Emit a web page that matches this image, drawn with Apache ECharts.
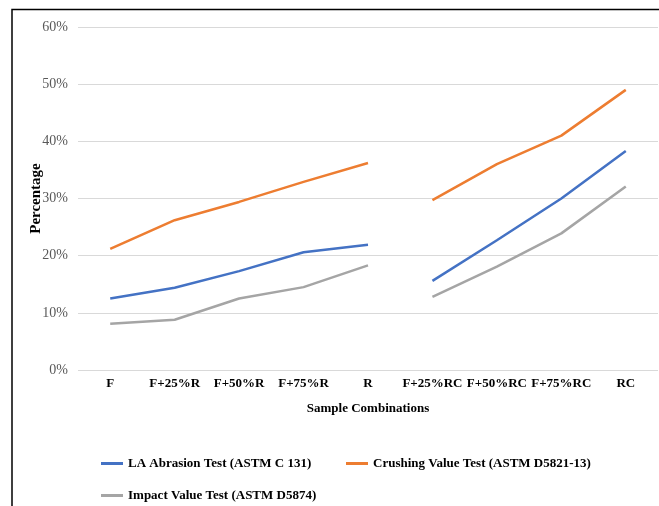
<!DOCTYPE html>
<html>
<head>
<meta charset="utf-8">
<script src="https://cdn.jsdelivr.net/npm/echarts@6/dist/echarts.min.js"></script>
<style>
html,body{margin:0;padding:0;background:#fff;}
#chart{width:659px;height:506px;}
</style>
</head>
<body>
<div id="chart"></div>
<script>
// Sample combinations along the x axis
const categories = ['F', 'F+25%R', 'F+50%R', 'F+75%R', 'R', 'F+25%RC', 'F+50%RC', 'F+75%RC', 'RC'];
// Test results in percent; the R group and the RC group are drawn as separate segments
const laAbrasion = [12.5, 14.4, 17.3, 20.6, 21.9, 15.6, 22.7, 30.0, 38.3];
const crushingValue = [21.2, 26.2, 29.4, 32.9, 36.2, 29.7, 36.0, 41.0, 49.0];
const impactValue = [8.1, 8.8, 12.5, 14.5, 18.3, 12.8, 18.1, 23.9, 32.1];
const yTicks = [0, 10, 20, 30, 40, 50, 60];
const splitAt = 5;

const names = {
  la: 'LA Abrasion Test (ASTM C 131)',
  cv: 'Crushing Value Test (ASTM D5821-13)',
  iv: 'Impact Value Test (ASTM D5874)'
};
const colors = { la: '#4472C4', cv: '#ED7D31', iv: '#A5A5A5' };

function part(values, first) {
  return values.map((v, i) => (first ? i < splitAt : i >= splitAt) ? v : '-');
}

function lineSeries(key, values, first) {
  return {
    name: names[key],
    type: 'line',
    data: part(values, first),
    symbol: 'none',
    smooth: false,
    connectNulls: false,
    lineStyle: { width: 2.5, color: colors[key] },
    itemStyle: { color: colors[key] },
    z: key === 'la' ? 3 : 2
  };
}

const serif = '"Liberation Serif", "DejaVu Serif", serif';
const legendText = { fontFamily: serif, fontWeight: 'bold', fontSize: 13, color: '#000' };

const chart = echarts.init(document.getElementById('chart'), null, { renderer: 'canvas' });
chart.setOption({
  animation: false,
  backgroundColor: '#fff',
  grid: { left: 78, right: 1, top: 27, bottom: 136 },
  graphic: [{
    type: 'polyline',
    shape: { points: [[12, 506], [12, 9.5], [659, 9.5]] },
    style: { stroke: '#000', lineWidth: 1.5, fill: null },
    silent: true
  }],
  xAxis: {
    type: 'category',
    data: categories,
    boundaryGap: true,
    axisLine: { show: false },
    axisTick: { show: false },
    axisLabel: { interval: 0, margin: 7, fontFamily: serif, fontWeight: 'bold', fontSize: 13, color: '#000' },
    name: 'Sample Combinations',
    nameLocation: 'middle',
    nameGap: 32,
    nameMoveOverlap: false,
    nameTextStyle: { fontFamily: serif, fontWeight: 'bold', fontSize: 13, color: '#000' }
  },
  yAxis: {
    type: 'value',
    min: yTicks[0],
    max: yTicks[yTicks.length - 1],
    interval: 10,
    axisLine: { show: false },
    axisTick: { show: false },
    splitLine: { lineStyle: { color: '#d9d9d9', width: 1 } },
    axisLabel: { margin: 10, fontFamily: serif, fontSize: 14, color: '#595959', formatter: v => v + '%' },
    name: 'Percentage',
    nameLocation: 'middle',
    nameGap: 34,
    nameMoveOverlap: false,
    nameTextStyle: { fontFamily: serif, fontWeight: 'bold', fontSize: 15, color: '#000' }
  },
  legend: [
    { data: [names.la], left: 96, top: 452, icon: 'rect', itemWidth: 22, itemHeight: 3, itemGap: 2, textStyle: legendText },
    { data: [names.cv], left: 341, top: 452, icon: 'rect', itemWidth: 22, itemHeight: 3, itemGap: 2, textStyle: legendText },
    { data: [names.iv], left: 96, top: 484, icon: 'rect', itemWidth: 22, itemHeight: 3, itemGap: 2, textStyle: legendText }
  ],
  series: [
    lineSeries('la', laAbrasion, true),
    lineSeries('la', laAbrasion, false),
    lineSeries('cv', crushingValue, true),
    lineSeries('cv', crushingValue, false),
    lineSeries('iv', impactValue, true),
    lineSeries('iv', impactValue, false)
  ]
});
</script>
</body>
</html>
